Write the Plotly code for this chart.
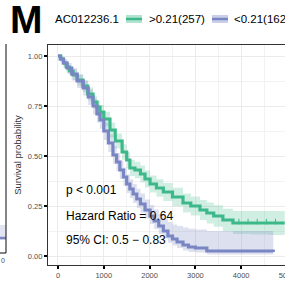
import plotly.graph_objects as go

# ---- data ----
legend_title = "AC012236.1"
group_labels = [">0.21(257)", "<0.21(162)"]
group_colors = ["#3DB88A", "#7A86C3"]
band_colors = ["rgba(61,184,138,0.24)", "rgba(122,134,195,0.26)"]
key_colors = ["rgba(61,184,138,0.40)", "rgba(122,134,195,0.40)"]

t_high = [0, 60, 120, 180, 250, 330, 420, 545, 650, 765, 850, 917, 1000, 1135, 1250, 1400, 1500, 1570, 1680, 1800,
          1900, 2010, 2150, 2300, 2500, 2730, 2900, 3100, 3250, 3400, 3600, 3820, 4200, 4600, 4950]
s_high = [1.0, 0.985, 0.965, 0.945, 0.925, 0.905, 0.88, 0.85, 0.81, 0.77, 0.745, 0.72, 0.685, 0.63, 0.575, 0.52, 0.48, 0.44, 0.43, 0.41,
          0.385, 0.36, 0.34, 0.32, 0.295, 0.265, 0.25, 0.23, 0.215, 0.2, 0.18, 0.165, 0.165, 0.165, 0.165]
up_high = [1.0, 0.995, 0.98, 0.965, 0.947, 0.93, 0.907, 0.88, 0.842, 0.803, 0.779, 0.755, 0.721, 0.667, 0.613, 0.559, 0.52, 0.48, 0.471, 0.452,
           0.427, 0.403, 0.384, 0.365, 0.341, 0.312, 0.298, 0.28, 0.267, 0.254, 0.236, 0.225, 0.225, 0.225, 0.225]
lo_high = [1.0, 0.975, 0.95, 0.925, 0.903, 0.88, 0.853, 0.82, 0.778, 0.737, 0.711, 0.685, 0.649, 0.593, 0.537, 0.481, 0.44, 0.40, 0.389, 0.368,
           0.343, 0.317, 0.296, 0.275, 0.249, 0.218, 0.202, 0.18, 0.163, 0.146, 0.124, 0.11, 0.108, 0.105, 0.105]
cens_t_high = [3950, 4150, 4350, 4550, 4750]
cens_s_high = [0.172, 0.172, 0.172, 0.172, 0.172]

t_low = [0, 50, 120, 200, 300, 420, 550, 660, 765, 850, 917, 1000, 1100, 1200, 1280, 1350, 1430, 1500, 1570, 1640,
         1720, 1800, 1900, 2010, 2100, 2200, 2300, 2400, 2500, 2600, 2730, 2850, 3000, 3250, 3600, 4000, 4700]
s_low = [1.0, 0.985, 0.965, 0.94, 0.91, 0.875, 0.84, 0.795, 0.75, 0.71, 0.68, 0.625, 0.565, 0.505, 0.47, 0.43, 0.395, 0.36, 0.335, 0.31,
         0.285, 0.26, 0.23, 0.2, 0.175, 0.15, 0.125, 0.1, 0.085, 0.07, 0.055, 0.045, 0.04, 0.025, 0.025, 0.025, 0.02]
up_low = [1.0, 1.0, 0.985, 0.965, 0.94, 0.907, 0.875, 0.832, 0.789, 0.75, 0.721, 0.667, 0.608, 0.55, 0.515, 0.477, 0.442, 0.408, 0.384, 0.36,
          0.336, 0.312, 0.283, 0.255, 0.232, 0.21, 0.19, 0.17, 0.158, 0.15, 0.142, 0.136, 0.132, 0.125, 0.125, 0.125, 0.125]
lo_low = [1.0, 0.968, 0.943, 0.912, 0.878, 0.84, 0.802, 0.755, 0.708, 0.667, 0.636, 0.58, 0.52, 0.46, 0.425, 0.385, 0.35, 0.315, 0.29, 0.265,
          0.24, 0.216, 0.187, 0.16, 0.135, 0.11, 0.088, 0.066, 0.052, 0.04, 0.028, 0.02, 0.017, 0.008, 0.008, 0.008, 0.008]

x_ticks = [0, 1000, 2000, 3000, 4000, 5000]
y_ticks = [0.0, 0.25, 0.5, 0.75, 1.0]
y_tick_text = ["0.00", "0.25", "0.50", "0.75", "1.00"]
stats_lines = ["p < 0.001", "Hazard Ratio = 0.64", "95% CI: 0.5 \u2212 0.83"]
panel_letter = "M"

FONT = "Liberation Sans, Arial, sans-serif"

fig = go.Figure()

groups = [
    (t_high, s_high, up_high, lo_high),
    (t_low, s_low, up_low, lo_low),
]
for i, (t, s, up, lo) in enumerate(groups):
    fig.add_trace(go.Scatter(x=t, y=lo, mode="lines", line=dict(width=0, shape="hv"),
                             showlegend=False, hoverinfo="skip"))
    fig.add_trace(go.Scatter(x=t, y=up, mode="lines", line=dict(width=0, shape="hv"),
                             fill="tonexty", fillcolor=band_colors[i], showlegend=False, hoverinfo="skip"))
for i, (t, s, up, lo) in enumerate(groups):
    fig.add_trace(go.Scatter(x=t, y=s, mode="lines", line=dict(width=3.2, color=group_colors[i], shape="hv"),
                             name=group_labels[i], showlegend=False))
fig.add_trace(go.Scatter(x=cens_t_high, y=cens_s_high, mode="markers",
                         marker=dict(symbol="line-ns", size=4, line=dict(width=1, color=group_colors[0])),
                         showlegend=False, hoverinfo="skip"))

# figure is a bit wider than the window so the plot runs past the right edge, as in the reference
W, H = 300, 282
L, R, T, B = 48, 0, 45, 17
pw, ph = W - L - R, H - T - B


def px_x(p):
    return (p - L) / pw


def px_y(p):
    return 1 - (p - T) / ph


annotations = []
shapes = []

# panel letter
annotations.append(dict(text="<b>%s</b>" % panel_letter, xref="paper", yref="paper",
                        x=px_x(8), y=px_y(19), xanchor="left", yanchor="middle", showarrow=False,
                        font=dict(family=FONT, size=39, color="black")))
# legend (manual, ggplot style on top)
annotations.append(dict(text=legend_title, xref="paper", yref="paper", x=px_x(53), y=px_y(19),
                        xanchor="left", yanchor="middle", showarrow=False,
                        font=dict(family=FONT, size=11.5, color="black")))
key_x = [126, 212]
txt_x = [147, 232]
for i in range(2):
    shapes.append(dict(type="rect", xref="paper", yref="paper", x0=px_x(key_x[i]), x1=px_x(key_x[i] + 16),
                       y0=px_y(15), y1=px_y(23), fillcolor=key_colors[i], line=dict(width=0)))
    shapes.append(dict(type="line", xref="paper", yref="paper", x0=px_x(key_x[i]), x1=px_x(key_x[i] + 16),
                       y0=px_y(19), y1=px_y(19), line=dict(color=group_colors[i], width=2.5)))
    annotations.append(dict(text=group_labels[i], xref="paper", yref="paper", x=px_x(txt_x[i]), y=px_y(19),
                            xanchor="left", yanchor="middle", showarrow=False,
                            font=dict(family=FONT, size=11.5, color="black")))

# statistics text
stat_y = [0.33, 0.20, 0.08]
for line_txt, yy in zip(stats_lines, stat_y):
    annotations.append(dict(text=line_txt, x=130, y=yy, xref="x", yref="y", xanchor="left", yanchor="middle",
                            showarrow=False, font=dict(family=FONT, size=12, color="black")))

# fragment of neighbouring panel on the left edge
shapes.append(dict(type="rect", xref="paper", yref="paper", x0=px_x(0), x1=px_x(6), y0=px_y(240), y1=px_y(225),
                   fillcolor="rgba(122,134,195,0.22)", line=dict(width=0)))
shapes.append(dict(type="line", xref="paper", yref="paper", x0=px_x(0), x1=px_x(6), y0=px_y(238), y1=px_y(238),
                   line=dict(color=group_colors[1], width=2.5)))
shapes.append(dict(type="line", xref="paper", yref="paper", x0=px_x(6), x1=px_x(6), y0=px_y(44), y1=px_y(253),
                   line=dict(color="#333333", width=1.2)))
shapes.append(dict(type="line", xref="paper", yref="paper", x0=px_x(0), x1=px_x(6), y0=px_y(253), y1=px_y(253),
                   line=dict(color="#333333", width=1.2)))
annotations.append(dict(text="0", xref="paper", yref="paper", x=px_x(3), y=px_y(260), xanchor="center",
                        yanchor="middle", showarrow=False, font=dict(family=FONT, size=7, color="#4D4D4D")))

fig.update_layout(
    width=W, height=H, margin=dict(l=L, r=R, t=T, b=B, pad=0),
    paper_bgcolor="white", plot_bgcolor="white",
    showlegend=False, annotations=annotations, shapes=shapes,
    font=dict(family=FONT),
)
fig.update_xaxes(range=[-218, 5284], tickvals=x_ticks, ticks="outside", ticklen=3, tickwidth=1.5,
                 tickcolor="black", tickfont=dict(size=7.5, color="#4D4D4D", family=FONT),
                 showgrid=True, gridcolor="#EBEBEB", gridwidth=1,
                 minor=dict(dtick=500, tick0=0, showgrid=True, gridcolor="#F2F2F2", gridwidth=0.8),
                 showline=True, linecolor="#333333", linewidth=1.2, mirror=True, zeroline=False)
fig.update_yaxes(range=[-0.045, 1.055], tickvals=y_ticks, ticktext=y_tick_text, ticks="outside", ticklen=3,
                 tickwidth=1.5, tickcolor="black", tickfont=dict(size=7.5, color="#4D4D4D", family=FONT),
                 showgrid=True, gridcolor="#EBEBEB", gridwidth=1,
                 minor=dict(dtick=0.125, tick0=0, showgrid=True, gridcolor="#F2F2F2", gridwidth=0.8),
                 showline=True, linecolor="#333333", linewidth=1.2, mirror=False, zeroline=False,
                 title=dict(text="Survival probability", standoff=4, font=dict(size=9.5, color="#333333", family=FONT)))

fig.write_html(
    "out.html",
    config={"displayModeBar": False},
    post_script="document.body.style.margin='0';document.body.style.overflow='hidden';"
                "document.documentElement.style.overflow='hidden';",
)
